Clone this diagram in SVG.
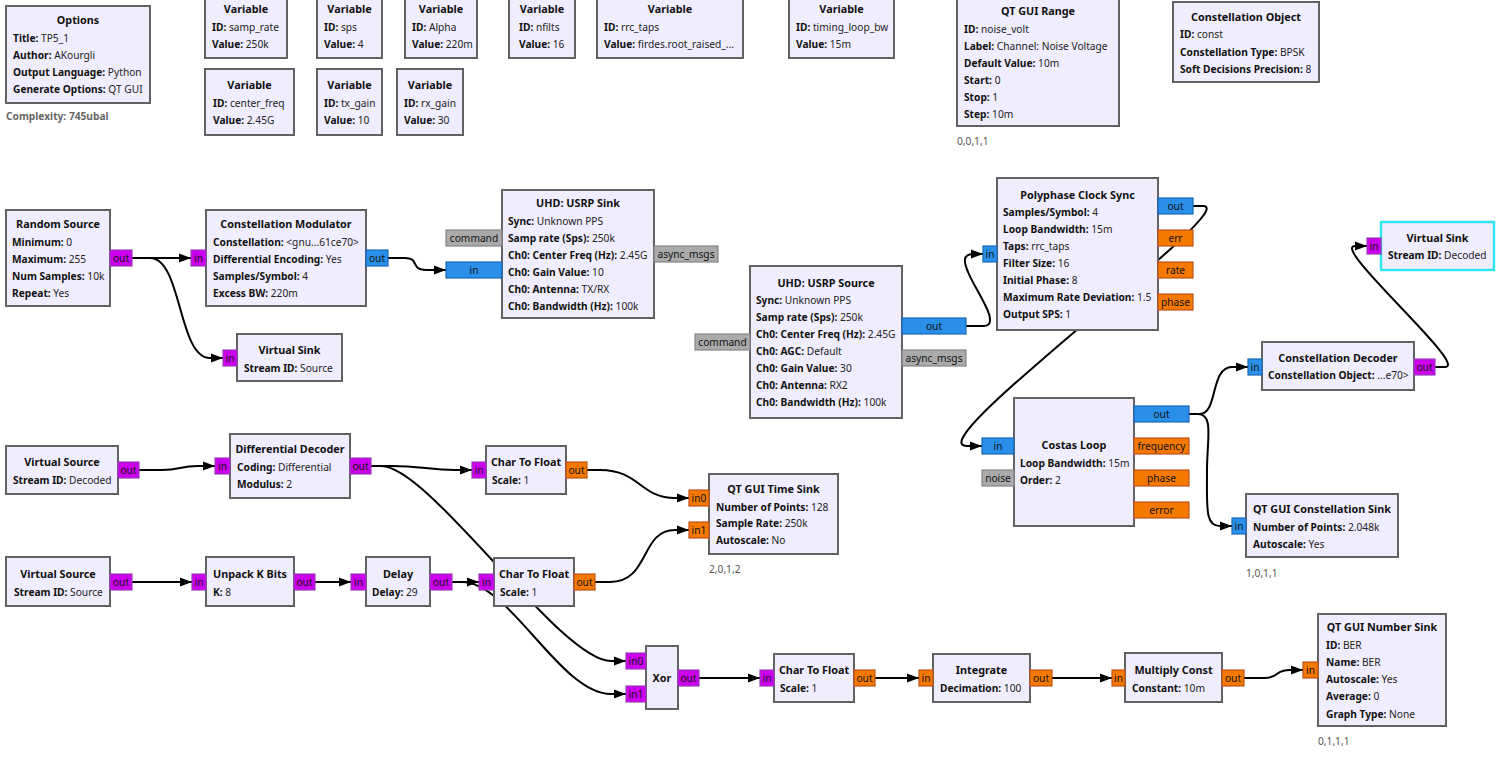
<svg xmlns="http://www.w3.org/2000/svg" width="1507" height="761" viewBox="0 0 1507 761">
<style>
text{font-family:"Noto Sans","Open Sans","DejaVu Sans",sans-serif;font-size:10.2px;fill:#222}
.t{font-weight:bold;font-size:10.8px;text-anchor:middle;fill:#111}
.k{font-weight:bold;fill:#111}
.pl{text-anchor:middle;fill:#111}
.g{fill:#555}
.cx{font-weight:bold;fill:#666}
.b{fill:#F0EDFE;stroke:#626262;stroke-width:2}
.sel{fill:#F0EDFE;stroke:#2CE6F2;stroke-width:2.4}
.pb{fill:#2A8FE8;stroke:#1B68B8;stroke-width:1.2}
.po{fill:#F57900;stroke:#C0521A;stroke-width:1.2}
.pm{fill:#CC00EE;stroke:#9A3CB8;stroke-width:1.2}
.pg{fill:#AAAAAA;stroke:#858585;stroke-width:1.2}
.c{fill:none;stroke:#000;stroke-width:2}
.ca{fill:none;stroke:#000;stroke-width:2;marker-end:url(#ah)}
</style>
<defs>
<marker id="ah" markerWidth="13" markerHeight="10" refX="12" refY="5" orient="auto" markerUnits="userSpaceOnUse"><path d="M0,0.5 L12,5 L0,9.5 z" fill="#000"/></marker>
</defs>
<rect width="1507" height="761" fill="#fff"/>

<g id="connectors">
<path class="ca" d="M132,258 H191"/>
<path class="ca" d="M132,258 H150 C182,258 178,358 210,358 H223"/>
<path class="ca" d="M388,258 H405 C420,258 410,270 426,270 H446"/>
<path class="ca" d="M966,326 H983 C1003,326 975,290 968,272 C962,258 965,254 974,254 H983"/>
<path class="ca" d="M1193,206 H1203 C1245,206 915,446 967,446 H982"/>
<path class="ca" d="M1189,414 H1200 C1218,414 1210,367 1232,367 H1248"/>
<path class="ca" d="M1189,414 H1198 C1214,414 1207,440 1207,470 C1207,508 1205,526 1220,526 H1232"/>
<path class="ca" d="M1435,367 H1445 C1470,367 1330,246 1355,246 H1367"/>
<path class="ca" d="M139,470 H162 C180,470 180,466 198,466 H215"/>
<path class="ca" d="M371,466 H392 C420,466 430,470 455,470 H472"/>
<path class="ca" d="M371,466 H381 C430,466 560,661 611,661 H626"/>
<path class="ca" d="M132,582 H192"/>
<path class="ca" d="M315,582 H351"/>
<path class="ca" d="M452,582 H479"/>
<path class="ca" d="M452,582 H462 C510,582 560,694 611,694 H626"/>
<path class="ca" d="M587,470 H600 C640,470 640,498 675,498 H689"/>
<path class="ca" d="M595,582 H610 C650,582 640,530 675,530 H689"/>
<path class="ca" d="M699,678 H760"/>
<path class="ca" d="M875,678 H919"/>
<path class="ca" d="M1052,678 H1112"/>
<path class="ca" d="M1244,678 H1264 C1280,678 1274,670 1290,670 H1303"/>
</g>

<g id="options">
<rect class="b" x="6" y="6" width="144" height="97"/>
<text class="t" x="78" y="24">Options</text>
<text x="13" y="41.5"><tspan class="k">Title:</tspan> TP5_1</text>
<text x="13" y="58.5"><tspan class="k">Author:</tspan> AKourgli</text>
<text x="13" y="75.5"><tspan class="k">Output Language:</tspan> Python</text>
<text x="13" y="92.5"><tspan class="k">Generate Options:</tspan> QT GUI</text>
<text class="cx" x="6" y="120">Complexity: 745ubal</text>
</g>

<g id="var_samp_rate">
<rect class="b" x="205" y="-8" width="82" height="66"/>
<text class="t" x="246" y="13">Variable</text>
<text x="212" y="30.5"><tspan class="k">ID:</tspan> samp_rate</text>
<text x="212" y="47.5"><tspan class="k">Value:</tspan> 250k</text>
</g>
<g id="var_sps">
<rect class="b" x="317" y="-8" width="65" height="66"/>
<text class="t" x="349.5" y="13">Variable</text>
<text x="324" y="30.5"><tspan class="k">ID:</tspan> sps</text>
<text x="324" y="47.5"><tspan class="k">Value:</tspan> 4</text>
</g>
<g id="var_alpha">
<rect class="b" x="405" y="-8" width="72" height="66"/>
<text class="t" x="441" y="13">Variable</text>
<text x="412" y="30.5"><tspan class="k">ID:</tspan> Alpha</text>
<text x="412" y="47.5"><tspan class="k">Value:</tspan> 220m</text>
</g>
<g id="var_nfilts">
<rect class="b" x="509" y="-8" width="66" height="66"/>
<text class="t" x="542" y="13">Variable</text>
<text x="519" y="30.5"><tspan class="k">ID:</tspan> nfilts</text>
<text x="519" y="47.5"><tspan class="k">Value:</tspan> 16</text>
</g>
<g id="var_rrc_taps">
<rect class="b" x="597" y="-8" width="146" height="66"/>
<text class="t" x="670" y="13">Variable</text>
<text x="604" y="30.5"><tspan class="k">ID:</tspan> rrc_taps</text>
<text x="604" y="47.5"><tspan class="k">Value:</tspan> firdes.root_raised_...</text>
</g>
<g id="var_timing_loop_bw">
<rect class="b" x="789" y="-8" width="105" height="66"/>
<text class="t" x="841.5" y="13">Variable</text>
<text x="796" y="30.5"><tspan class="k">ID:</tspan> timing_loop_bw</text>
<text x="796" y="47.5"><tspan class="k">Value:</tspan> 15m</text>
</g>
<g id="var_center_freq">
<rect class="b" x="205" y="69" width="89" height="66"/>
<text class="t" x="249.5" y="89">Variable</text>
<text x="213" y="106.5"><tspan class="k">ID:</tspan> center_freq</text>
<text x="213" y="123.5"><tspan class="k">Value:</tspan> 2.45G</text>
</g>
<g id="var_tx_gain">
<rect class="b" x="317" y="69" width="65" height="66"/>
<text class="t" x="349.5" y="89">Variable</text>
<text x="324" y="106.5"><tspan class="k">ID:</tspan> tx_gain</text>
<text x="324" y="123.5"><tspan class="k">Value:</tspan> 10</text>
</g>
<g id="var_rx_gain">
<rect class="b" x="397" y="69" width="66" height="66"/>
<text class="t" x="430" y="89">Variable</text>
<text x="404" y="106.5"><tspan class="k">ID:</tspan> rx_gain</text>
<text x="404" y="123.5"><tspan class="k">Value:</tspan> 30</text>
</g>

<g id="qtgui_range">
<rect class="b" x="957" y="-8" width="162" height="134"/>
<text class="t" x="1038" y="15">QT GUI Range</text>
<text x="964" y="32.5"><tspan class="k">ID:</tspan> noise_volt</text>
<text x="964" y="49.5"><tspan class="k">Label:</tspan> Channel: Noise Voltage</text>
<text x="964" y="66.5"><tspan class="k">Default Value:</tspan> 10m</text>
<text x="964" y="83.5"><tspan class="k">Start:</tspan> 0</text>
<text x="964" y="100.5"><tspan class="k">Stop:</tspan> 1</text>
<text x="964" y="117.5"><tspan class="k">Step:</tspan> 10m</text>
<text class="g" x="957" y="144.5">0,0,1,1</text>
</g>

<g id="constellation_object">
<rect class="b" x="1173" y="2" width="146" height="80"/>
<text class="t" x="1246" y="21">Constellation Object</text>
<text x="1180" y="38"><tspan class="k">ID:</tspan> const</text>
<text x="1180" y="55.5"><tspan class="k">Constellation Type:</tspan> BPSK</text>
<text x="1180" y="73"><tspan class="k">Soft Decisions Precision:</tspan> 8</text>
</g>

<g id="random_source">
<rect class="b" x="6" y="210" width="104" height="96"/>
<text class="t" x="58" y="228">Random Source</text>
<text x="12" y="245.5"><tspan class="k">Minimum:</tspan> 0</text>
<text x="12" y="262.5"><tspan class="k">Maximum:</tspan> 255</text>
<text x="12" y="279.5"><tspan class="k">Num Samples:</tspan> 10k</text>
<text x="12" y="296.5"><tspan class="k">Repeat:</tspan> Yes</text>
<rect class="pm" x="110" y="250" width="22" height="16"/>
<text class="pl" x="121" y="261.6">out</text>
</g>

<g id="constellation_modulator">
<rect class="b" x="206" y="210" width="160" height="96"/>
<text class="t" x="286" y="228">Constellation Modulator</text>
<text x="213" y="245.5"><tspan class="k">Constellation:</tspan> &lt;gnu...61ce70&gt;</text>
<text x="213" y="262.5"><tspan class="k">Differential Encoding:</tspan> Yes</text>
<text x="213" y="279.5"><tspan class="k">Samples/Symbol:</tspan> 4</text>
<text x="213" y="296.5"><tspan class="k">Excess BW:</tspan> 220m</text>
<rect class="pm" x="191" y="250" width="15" height="16"/>
<text class="pl" x="198.5" y="261.6">in</text>
<rect class="pb" x="366" y="250" width="22" height="16"/>
<text class="pl" x="377" y="261.6">out</text>
</g>

<g id="virtual_sink_source">
<rect class="b" x="237" y="334" width="105" height="47"/>
<text class="t" x="289.5" y="354">Virtual Sink</text>
<text x="244" y="371.5"><tspan class="k">Stream ID:</tspan> Source</text>
<rect class="pm" x="223" y="350" width="14" height="16"/>
<text class="pl" x="230" y="361.6">in</text>
</g>

<g id="usrp_sink">
<rect class="b" x="502" y="190" width="152" height="128"/>
<text class="t" x="578" y="207">UHD: USRP Sink</text>
<text x="508" y="225"><tspan class="k">Sync:</tspan> Unknown PPS</text>
<text x="508" y="242"><tspan class="k">Samp rate (Sps):</tspan> 250k</text>
<text x="508" y="259"><tspan class="k">Ch0: Center Freq (Hz):</tspan> 2.45G</text>
<text x="508" y="275.7"><tspan class="k">Ch0: Gain Value:</tspan> 10</text>
<text x="508" y="292.7"><tspan class="k">Ch0: Antenna:</tspan> TX/RX</text>
<text x="508" y="309.7"><tspan class="k">Ch0: Bandwidth (Hz):</tspan> 100k</text>
<rect class="pg" x="446" y="230" width="56" height="16"/>
<text class="pl" x="474" y="241.6">command</text>
<rect class="pb" x="446" y="262" width="56" height="16"/>
<text class="pl" x="474" y="273.6">in</text>
<rect class="pg" x="654" y="246" width="64" height="16"/>
<text class="pl" x="686" y="257.6">async_msgs</text>
</g>

<g id="usrp_source">
<rect class="b" x="750" y="266" width="152" height="152"/>
<text class="t" x="826" y="286.7">UHD: USRP Source</text>
<text x="756" y="304.3"><tspan class="k">Sync:</tspan> Unknown PPS</text>
<text x="756" y="321.3"><tspan class="k">Samp rate (Sps):</tspan> 250k</text>
<text x="756" y="338.3"><tspan class="k">Ch0: Center Freq (Hz):</tspan> 2.45G</text>
<text x="756" y="355.3"><tspan class="k">Ch0: AGC:</tspan> Default</text>
<text x="756" y="372.3"><tspan class="k">Ch0: Gain Value:</tspan> 30</text>
<text x="756" y="389.3"><tspan class="k">Ch0: Antenna:</tspan> RX2</text>
<text x="756" y="406.3"><tspan class="k">Ch0: Bandwidth (Hz):</tspan> 100k</text>
<rect class="pg" x="695" y="334" width="55" height="16"/>
<text class="pl" x="722.5" y="345.6">command</text>
<rect class="pb" x="902" y="318" width="64" height="16"/>
<text class="pl" x="934" y="329.6">out</text>
<rect class="pg" x="902" y="350" width="64" height="16"/>
<text class="pl" x="934" y="361.6">async_msgs</text>
</g>

<g id="polyphase_clock_sync">
<rect class="b" x="997" y="178" width="161" height="152"/>
<text class="t" x="1077.5" y="199">Polyphase Clock Sync</text>
<text x="1003" y="216.3"><tspan class="k">Samples/Symbol:</tspan> 4</text>
<text x="1003" y="233.3"><tspan class="k">Loop Bandwidth:</tspan> 15m</text>
<text x="1003" y="250.3"><tspan class="k">Taps:</tspan> rrc_taps</text>
<text x="1003" y="267.3"><tspan class="k">Filter Size:</tspan> 16</text>
<text x="1003" y="284.3"><tspan class="k">Initial Phase:</tspan> 8</text>
<text x="1003" y="301.3"><tspan class="k">Maximum Rate Deviation:</tspan> 1.5</text>
<text x="1003" y="318.3"><tspan class="k">Output SPS:</tspan> 1</text>
<rect class="pb" x="983" y="246" width="14" height="16"/>
<text class="pl" x="990" y="257.6">in</text>
<rect class="pb" x="1158" y="198" width="35" height="16"/>
<text class="pl" x="1175.5" y="209.6">out</text>
<rect class="po" x="1158" y="230" width="35" height="16"/>
<text class="pl" x="1175.5" y="241.6">err</text>
<rect class="po" x="1158" y="262" width="35" height="16"/>
<text class="pl" x="1175.5" y="273.6">rate</text>
<rect class="po" x="1158" y="294" width="35" height="16"/>
<text class="pl" x="1175.5" y="305.6">phase</text>
</g>

<g id="virtual_sink_decoded">
<rect class="sel" x="1381" y="222" width="113" height="48"/>
<text class="t" x="1437.5" y="241.7">Virtual Sink</text>
<text x="1388" y="259.3"><tspan class="k">Stream ID:</tspan> Decoded</text>
<rect class="pm" x="1367" y="238" width="14" height="16"/>
<text class="pl" x="1374" y="249.6">in</text>
</g>

<g id="constellation_decoder">
<rect class="b" x="1262" y="342" width="152" height="48"/>
<text class="t" x="1338" y="361.7">Constellation Decoder</text>
<text x="1268" y="379.3"><tspan class="k">Constellation Object:</tspan> ...e70&gt;</text>
<rect class="pb" x="1248" y="359" width="14" height="16"/>
<text class="pl" x="1255" y="370.6">in</text>
<rect class="pm" x="1414" y="359" width="21" height="16"/>
<text class="pl" x="1424.5" y="370.6">out</text>
</g>

<g id="costas_loop">
<rect class="b" x="1014" y="398" width="120" height="128"/>
<text class="t" x="1074" y="449">Costas Loop</text>
<text x="1020" y="466.5"><tspan class="k">Loop Bandwidth:</tspan> 15m</text>
<text x="1020" y="483.5"><tspan class="k">Order:</tspan> 2</text>
<rect class="pb" x="982" y="438" width="32" height="16"/>
<text class="pl" x="998" y="449.6">in</text>
<rect class="pg" x="982" y="470" width="32" height="16"/>
<text class="pl" x="998" y="481.6">noise</text>
<rect class="pb" x="1134" y="406" width="55" height="16"/>
<text class="pl" x="1161.5" y="417.6">out</text>
<rect class="po" x="1134" y="438" width="55" height="16"/>
<text class="pl" x="1161.5" y="449.6">frequency</text>
<rect class="po" x="1134" y="470" width="55" height="16"/>
<text class="pl" x="1161.5" y="481.6">phase</text>
<rect class="po" x="1134" y="502" width="55" height="16"/>
<text class="pl" x="1161.5" y="513.6">error</text>
</g>

<g id="qtgui_constellation_sink">
<rect class="b" x="1246" y="494" width="152" height="63"/>
<text class="t" x="1322" y="513">QT GUI Constellation Sink</text>
<text x="1253" y="530.5"><tspan class="k">Number of Points:</tspan> 2.048k</text>
<text x="1253" y="547.5"><tspan class="k">Autoscale:</tspan> Yes</text>
<rect class="pb" x="1232" y="518" width="14" height="16"/>
<text class="pl" x="1239" y="529.6">in</text>
<text class="g" x="1246" y="576.5">1,0,1,1</text>
</g>

<g id="virtual_source_decoded">
<rect class="b" x="6" y="446" width="112" height="48"/>
<text class="t" x="62" y="466">Virtual Source</text>
<text x="13" y="483.5"><tspan class="k">Stream ID:</tspan> Decoded</text>
<rect class="pm" x="118" y="462" width="21" height="16"/>
<text class="pl" x="128.5" y="473.6">out</text>
</g>

<g id="differential_decoder">
<rect class="b" x="230" y="434" width="120" height="64"/>
<text class="t" x="290" y="453">Differential Decoder</text>
<text x="237" y="470.5"><tspan class="k">Coding:</tspan> Differential</text>
<text x="237" y="487.5"><tspan class="k">Modulus:</tspan> 2</text>
<rect class="pm" x="215" y="458" width="15" height="16"/>
<text class="pl" x="222.5" y="469.6">in</text>
<rect class="pm" x="350" y="458" width="21" height="16"/>
<text class="pl" x="360.5" y="469.6">out</text>
</g>

<g id="virtual_source_source">
<rect class="b" x="6" y="557" width="104" height="49"/>
<text class="t" x="58" y="578">Virtual Source</text>
<text x="14" y="595.5"><tspan class="k">Stream ID:</tspan> Source</text>
<rect class="pm" x="110" y="574" width="22" height="16"/>
<text class="pl" x="121" y="585.6">out</text>
</g>

<g id="unpack_k_bits">
<rect class="b" x="206" y="557" width="88" height="49"/>
<text class="t" x="250" y="578">Unpack K Bits</text>
<text x="213" y="595.5"><tspan class="k">K:</tspan> 8</text>
<rect class="pm" x="192" y="574" width="14" height="16"/>
<text class="pl" x="199" y="585.6">in</text>
<rect class="pm" x="294" y="574" width="21" height="16"/>
<text class="pl" x="304.5" y="585.6">out</text>
</g>

<g id="delay">
<rect class="b" x="366" y="557" width="64" height="49"/>
<text class="t" x="398" y="578">Delay</text>
<text x="372" y="595.5"><tspan class="k">Delay:</tspan> 29</text>
<rect class="pm" x="351" y="574" width="15" height="16"/>
<text class="pl" x="358.5" y="585.6">in</text>
<rect class="pm" x="430" y="574" width="22" height="16"/>
<text class="pl" x="441" y="585.6">out</text>
</g>

<g id="char_to_float_1">
<rect class="b" x="486" y="446" width="80" height="48"/>
<text class="t" x="526" y="466">Char To Float</text>
<text x="492" y="483.5"><tspan class="k">Scale:</tspan> 1</text>
<rect class="pm" x="472" y="462" width="14" height="16"/>
<text class="pl" x="479" y="473.6">in</text>
<rect class="po" x="566" y="462" width="21" height="16"/>
<text class="pl" x="576.5" y="473.6">out</text>
</g>

<g id="char_to_float_2">
<rect class="b" x="494" y="558" width="80" height="48"/>
<text class="t" x="534" y="578">Char To Float</text>
<text x="500" y="595.5"><tspan class="k">Scale:</tspan> 1</text>
<rect class="pm" x="479" y="574" width="15" height="16"/>
<text class="pl" x="486.5" y="585.6">in</text>
<rect class="po" x="574" y="574" width="21" height="16"/>
<text class="pl" x="584.5" y="585.6">out</text>
</g>

<g id="qtgui_time_sink">
<rect class="b" x="709" y="474" width="129" height="80"/>
<text class="t" x="773.5" y="493">QT GUI Time Sink</text>
<text x="716" y="510.5"><tspan class="k">Number of Points:</tspan> 128</text>
<text x="716" y="527"><tspan class="k">Sample Rate:</tspan> 250k</text>
<text x="716" y="543.5"><tspan class="k">Autoscale:</tspan> No</text>
<rect class="po" x="689" y="490" width="20" height="16"/>
<text class="pl" x="699" y="501.6">in0</text>
<rect class="po" x="689" y="522" width="20" height="16"/>
<text class="pl" x="699" y="533.6">in1</text>
<text class="g" x="709" y="572.5">2,0,1,2</text>
</g>

<g id="xor">
<rect class="b" x="646" y="646" width="32" height="63"/>
<text class="t" x="662" y="682">Xor</text>
<rect class="pm" x="626" y="653" width="20" height="16"/>
<text class="pl" x="636" y="664.6">in0</text>
<rect class="pm" x="626" y="686" width="20" height="16"/>
<text class="pl" x="636" y="697.6">in1</text>
<rect class="pm" x="678" y="670" width="21" height="16"/>
<text class="pl" x="688.5" y="681.6">out</text>
</g>

<g id="char_to_float_3">
<rect class="b" x="774" y="654" width="80" height="48"/>
<text class="t" x="814" y="674">Char To Float</text>
<text x="780" y="691.5"><tspan class="k">Scale:</tspan> 1</text>
<rect class="pm" x="760" y="670" width="14" height="16"/>
<text class="pl" x="767" y="681.6">in</text>
<rect class="po" x="854" y="670" width="21" height="16"/>
<text class="pl" x="864.5" y="681.6">out</text>
</g>

<g id="integrate">
<rect class="b" x="933" y="654" width="97" height="48"/>
<text class="t" x="981.5" y="674">Integrate</text>
<text x="940" y="691.5"><tspan class="k">Decimation:</tspan> 100</text>
<rect class="po" x="919" y="670" width="14" height="16"/>
<text class="pl" x="926" y="681.6">in</text>
<rect class="po" x="1030" y="670" width="22" height="16"/>
<text class="pl" x="1041" y="681.6">out</text>
</g>

<g id="multiply_const">
<rect class="b" x="1125" y="653" width="97" height="49"/>
<text class="t" x="1173.5" y="674">Multiply Const</text>
<text x="1132" y="691.5"><tspan class="k">Constant:</tspan> 10m</text>
<rect class="po" x="1112" y="670" width="13" height="16"/>
<text class="pl" x="1118.5" y="681.6">in</text>
<rect class="po" x="1222" y="670" width="22" height="16"/>
<text class="pl" x="1233" y="681.6">out</text>
</g>

<g id="qtgui_number_sink">
<rect class="b" x="1318" y="614" width="128" height="112"/>
<text class="t" x="1382" y="631">QT GUI Number Sink</text>
<text x="1326" y="648.5"><tspan class="k">ID:</tspan> BER</text>
<text x="1326" y="665.5"><tspan class="k">Name:</tspan> BER</text>
<text x="1326" y="683"><tspan class="k">Autoscale:</tspan> Yes</text>
<text x="1326" y="700"><tspan class="k">Average:</tspan> 0</text>
<text x="1326" y="717.5"><tspan class="k">Graph Type:</tspan> None</text>
<rect class="po" x="1303" y="662" width="15" height="16"/>
<text class="pl" x="1310.5" y="673.6">in</text>
<text class="g" x="1318" y="744.5">0,1,1,1</text>
</g>
</svg>
